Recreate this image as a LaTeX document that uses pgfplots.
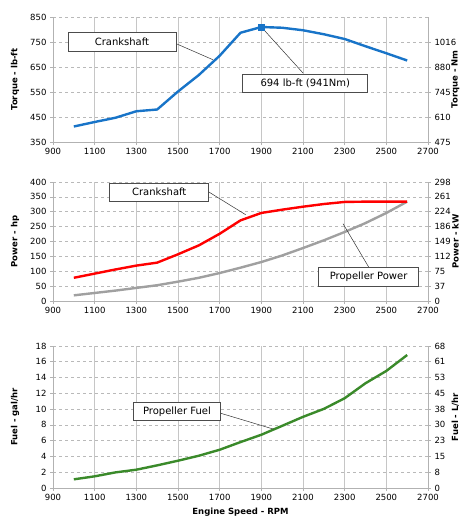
\documentclass[border=0pt]{standalone}
\usepackage{fontspec}
\setmainfont{DejaVu Sans}
\usepackage{pgfplots}
\pgfplotsset{compat=1.18}
\usepackage{pgfplotstable}

\definecolor{torqueblue}{RGB}{24,116,200}
\definecolor{propgray}{RGB}{160,160,160}
\definecolor{fuelgreen}{RGB}{58,138,42}

% rpm  torque (lb-ft)
\pgfplotstableread{
rpm  tq
1000 412
1100 430
1200 447
1300 473
1400 480
1500 552
1600 618
1700 695
1800 787
1900 810
2000 807
2100 797
2200 781
2300 762
2400 733
2500 705
2600 676
}\torque

% rpm  crankshaft hp  propeller hp
\pgfplotstableread{
rpm  crank prop
1000 78  19
1100 92  27
1200 106 35
1300 119 44
1400 129 53
1500 157 65
1600 187 78
1700 226 94
1800 271 112
1900 296 131
2000 307 153
2100 317 178
2200 326 204
2300 333 232
2400 334 262
2500 334 296
2600 334 334
}\power

% rpm  propeller fuel gal/hr
\pgfplotstableread{
rpm  fuel
1000 1.10
1100 1.48
1200 1.98
1300 2.32
1400 2.87
1500 3.46
1600 4.09
1700 4.85
1800 5.82
1900 6.75
2000 7.88
2100 9.02
2200 10.03
2300 11.38
2400 13.28
2500 14.84
2600 16.86
}\fuel

\newcommand{\lblfont}{\fontsize{8.5}{10}\selectfont\bfseries}

\pgfplotsset{
  base/.style={
    scale only axis, width=375pt,
    xmin=900, xmax=2700, xtick={900,1100,...,2700},
    tick align=outside, major tick length=3pt,
    tick style={draw=gray!60, line width=0.6pt},
    ticklabel style={font=\fontsize{8.5}{10}\selectfont},
    /pgf/number format/assume math mode=true,
    /pgf/number format/set thousands separator={},
    every axis y label/.style={at={(axis description cs:-0.101,0.5)}, rotate=90,
      anchor=center, font=\lblfont},
    every axis x label/.style={at={(axis description cs:0.5,-0.17)},
      anchor=center, font=\lblfont},
  },
  engine/.style={
    base,
    axis x line*=bottom, axis y line*=left,
    axis line style={draw=gray!60, line width=0.6pt},
    xmajorgrids, ymajorgrids,
    x grid style={gray!45, line width=0.6pt},
    y grid style={gray!55, dashed, line width=0.6pt},
  },
  rightside/.style={
    base,
    axis x line=none, axis y line*=right,
    axis line style={draw=gray!60, line width=0.6pt},
    every axis y label/.style={at={(axis description cs:1.073,0.5)}, rotate=90,
      anchor=center, font=\lblfont},
  },
}
\tikzset{
  box/.style={draw=black!70, fill=white, line width=0.6pt, inner sep=0pt,
    font=\fontsize{10}{12}\selectfont},
  lead/.style={black!80, line width=0.5pt},
}

\begin{document}
\begin{tikzpicture}
\path[use as bounding box] (0,0) rectangle (462pt,-516pt);

% ---------- torque ----------
\begin{axis}[engine, at={(53pt,-142pt)}, anchor=south west, height=125pt,
  ymin=350, ymax=850, ytick={350,450,...,850}, ylabel={Torque - lb-ft}]
\addplot[torqueblue, line width=2.4pt] table[x=rpm, y=tq] {\torque};
\addplot[torqueblue, only marks, mark=square*, mark size=3pt] coordinates {(1900,810)};
\draw[lead] (axis cs:1492,743) -- (axis cs:1668,679);
\node[box, minimum width=108pt, minimum height=19pt] at (axis cs:1231,749) {Crankshaft};
\draw[lead] (axis cs:1900,810) -- (axis cs:2100,626);
\node[box, minimum width=125pt, minimum height=18pt] at (axis cs:2111,583) {694 lb-ft (941Nm)};
\end{axis}
\begin{axis}[rightside, at={(53pt,-142pt)}, anchor=south west, height=125pt,
  ymin=350, ymax=850, ytick={350,450,...,750},
  yticklabels={475,610,745,880,1016}, ylabel={Torque - Nm}]
\end{axis}

% ---------- power ----------
\begin{axis}[engine, at={(53pt,-301pt)}, anchor=south west, height=119pt,
  ymin=0, ymax=400, ytick={0,50,...,400}, ylabel={Power - hp}]
\addplot[propgray, line width=2.4pt] table[x=rpm, y=prop] {\power};
\addplot[red, line width=2.4pt] table[x=rpm, y=crank] {\power};
\draw[lead] (axis cs:1649,366) -- (axis cs:1825,290);
\node[box, minimum width=99pt, minimum height=18pt] at (axis cs:1410,366) {Crankshaft};
\draw[lead] (axis cs:2292,260) -- (axis cs:2417,112);
\node[box, minimum width=100pt, minimum height=19pt] at (axis cs:2415,80) {Propeller Power};
\end{axis}
\begin{axis}[rightside, at={(53pt,-301pt)}, anchor=south west, height=119pt,
  ymin=0, ymax=400, ytick={0,50,...,400},
  yticklabels={0,37,75,112,149,186,224,261,298}, ylabel={Power - kW}]
\end{axis}

% ---------- fuel ----------
\begin{axis}[engine, at={(53pt,-488pt)}, anchor=south west, height=142pt,
  ymin=0, ymax=18, ytick={0,2,...,18}, ylabel={Fuel - gal/hr},
  xlabel={Engine Speed - RPM}]
\addplot[fuelgreen, line width=2.4pt] table[x=rpm, y=fuel] {\fuel};
\draw[lead] (axis cs:1703,9.49) -- (axis cs:1959,7.46);
\node[box, minimum width=87pt, minimum height=18pt] at (axis cs:1495,9.70) {Propeller Fuel};
\end{axis}
\begin{axis}[rightside, at={(53pt,-488pt)}, anchor=south west, height=142pt,
  ymin=0, ymax=18, ytick={0,2,...,18},
  yticklabels={0,8,15,23,30,38,45,53,61,68}, ylabel={Fuel - L/hr}]
\end{axis}
\end{tikzpicture}
\end{document}
